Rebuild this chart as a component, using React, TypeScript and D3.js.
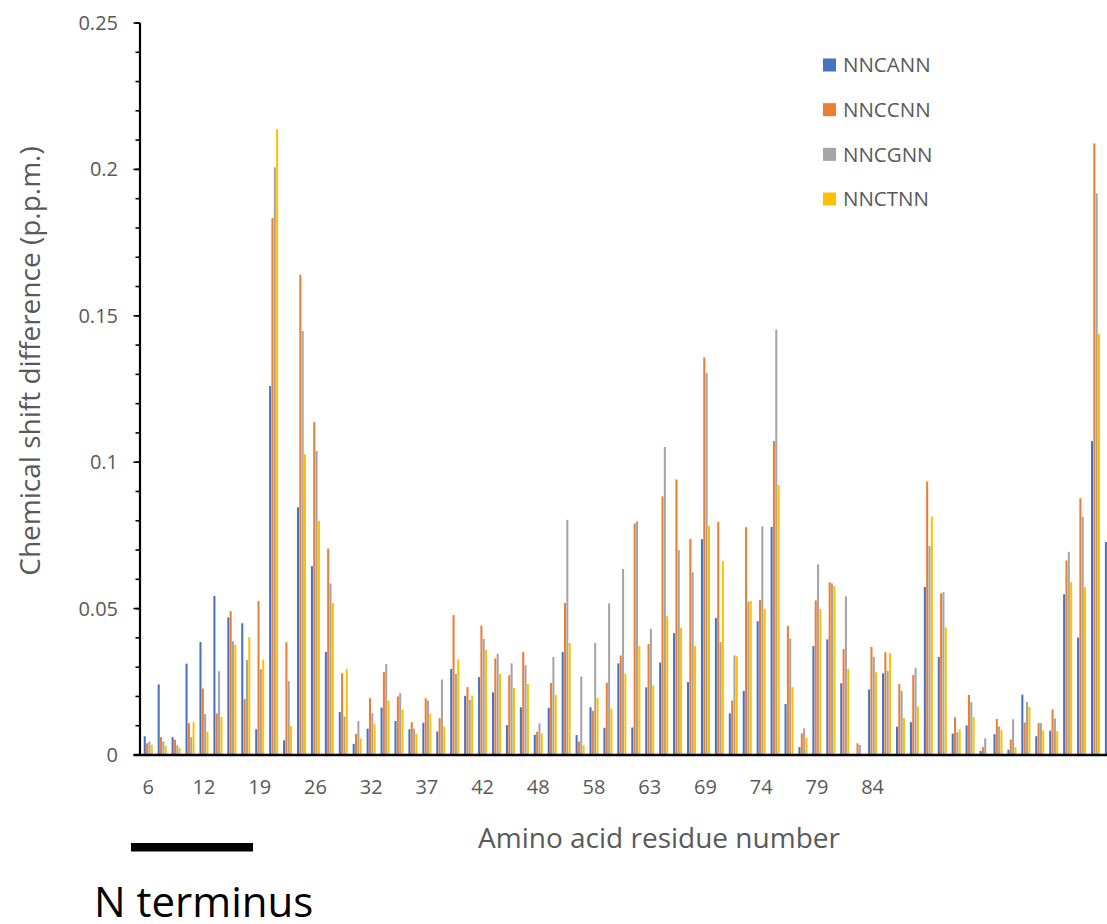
import React from "react";
import * as d3 from "d3";

// Chemical shift differences per residue for the four constructs
const seriesNames = ["NNCANN", "NNCCNN", "NNCGNN", "NNCTNN"];
const seriesColors = ["#4472C4", "#ED7D31", "#A5A5A5", "#FFC000"];

// The last residue group runs past the frame edge; only NNCANN is visible there.
const nncann = [
  0.0064, 0.0241, 0.0061, 0.0312, 0.0386, 0.0543, 0.047, 0.045, 0.0088, 0.126,
  0.005, 0.0846, 0.0645, 0.0352, 0.0147, 0.0038, 0.009, 0.0162, 0.0116, 0.0088,
  0.011, 0.008, 0.0294, 0.0202, 0.0266, 0.0214, 0.0102, 0.0163, 0.0069, 0.0161,
  0.0352, 0.0068, 0.0163, 0.0093, 0.0313, 0.0094, 0.0231, 0.0316, 0.0416, 0.0249,
  0.0737, 0.0468, 0.0142, 0.0219, 0.0457, 0.0779, 0.0174, 0.0027, 0.0372, 0.0395,
  0.0245, 0, 0.0224, 0.0279, 0.0097, 0.0112, 0.0574, 0.0335, 0.0073, 0.0101,
  0.0014, 0.0071, 0.0018, 0.0206, 0.0064, 0.0083, 0.0549, 0.0401, 0.1072, 0.0727,
];
const nnccnn = [
  0.004, 0.0061, 0.0052, 0.0109, 0.0227, 0.0142, 0.0491, 0.0191, 0.0526, 0.1834,
  0.0385, 0.164, 0.1137, 0.0705, 0.0279, 0.0072, 0.0194, 0.0283, 0.02, 0.0112,
  0.0194, 0.0126, 0.0478, 0.0232, 0.0442, 0.033, 0.0273, 0.0352, 0.0079, 0.0246,
  0.0519, 0.0046, 0.0151, 0.0247, 0.034, 0.0791, 0.0379, 0.0883, 0.0941, 0.0738,
  0.1358, 0.0796, 0.0186, 0.0778, 0.0529, 0.1072, 0.0441, 0.0074, 0.0528, 0.059,
  0.0362, 0.004, 0.0369, 0.0351, 0.0242, 0.0273, 0.0934, 0.0552, 0.0129, 0.0205,
  0.0027, 0.0123, 0.0053, 0.0111, 0.0109, 0.0156, 0.0664, 0.0877, 0.2089, null,
];
const nncgnn = [
  0.0046, 0.0046, 0.0033, 0.0061, 0.014, 0.0286, 0.0388, 0.0324, 0.0293, 0.2007,
  0.0252, 0.1448, 0.1038, 0.0586, 0.0132, 0.0116, 0.0143, 0.0311, 0.0212, 0.009,
  0.0186, 0.0258, 0.0277, 0.0188, 0.0396, 0.0346, 0.0313, 0.0307, 0.0108, 0.0335,
  0.0803, 0.0268, 0.0383, 0.0518, 0.0635, 0.0798, 0.0431, 0.1052, 0.07, 0.0624,
  0.1305, 0.0386, 0.034, 0.0524, 0.0781, 0.1453, 0.0398, 0.0091, 0.0651, 0.0586,
  0.0542, 0.0034, 0.0335, 0.0287, 0.0219, 0.0298, 0.0714, 0.0556, 0.0078, 0.0181,
  0.0057, 0.0098, 0.0122, 0.0181, 0.0109, 0.0125, 0.0694, 0.0814, 0.1918, null,
];
const nnctnn = [
  0.0035, 0.0032, 0.0025, 0.0112, 0.0079, 0.013, 0.0376, 0.0403, 0.0326, 0.2137,
  0.0099, 0.1027, 0.08, 0.0519, 0.0294, 0.0056, 0.0105, 0.0186, 0.0155, 0.0073,
  0.0141, 0.0097, 0.0327, 0.0203, 0.0359, 0.0277, 0.0229, 0.0242, 0.0074, 0.0205,
  0.0383, 0.0034, 0.0195, 0.0158, 0.0277, 0.0372, 0.0238, 0.0474, 0.0434, 0.0372,
  0.0783, 0.0663, 0.0337, 0.0526, 0.0499, 0.0922, 0.0232, 0.0058, 0.0499, 0.0578,
  0.0294, 0, 0.0283, 0.0348, 0.0126, 0.0165, 0.0814, 0.0436, 0.0088, 0.013,
  0, 0.0085, 0.0027, 0.0164, 0.0083, 0.0081, 0.059, 0.0573, 0.1438, null,
];
const seriesValues: (number | null)[][] = [nncann, nnccnn, nncgnn, nnctnn];

// Residue numbers shown on the category axis (every fourth group)
const tickLabels = ["6", "12", "19", "26", "32", "37", "42", "48", "58", "63", "69", "74", "79", "84"];
const tickEvery = 4;

const yMax = 0.25;
const yMajorStep = 0.05;
const yMinorStep = 0.01;

const W = 1107;
const H = 924;
const FONT = "'Open Sans', 'Noto Sans', sans-serif";
const TEXT = "#595959";

export default function App() {
  const nGroups = nncann.length;
  const step = 13.93;
  const left = 141.3;
  const top = 23;
  const bottom = 755;
  const axisX = 140;

  const x0 = d3
    .scaleBand<number>()
    .domain(d3.range(nGroups))
    .range([left, left + step * nGroups])
    .paddingInner(0.33)
    .paddingOuter(0.165);
  const x1 = d3
    .scaleBand<number>()
    .domain(d3.range(seriesNames.length))
    .range([0, x0.bandwidth()]);
  const y = d3.scaleLinear().domain([0, yMax]).range([bottom, top]);

  const minorTicks = d3.range(0, Math.round(yMax / yMinorStep) + 1).map((i) => i * yMinorStep);
  const majorTicks = d3.range(0, Math.round(yMax / yMajorStep) + 1).map((i) => i * yMajorStep);
  const fmt = (v: number) => String(+v.toFixed(2));

  const legendY = d3.scalePoint<string>().domain(seriesNames).range([65, 199]);

  return (
    <svg
      width={W}
      height={H}
      style={{ position: "absolute", left: 0, top: 0, background: "#fff", overflow: "hidden" }}
      fontFamily={FONT}
    >
      <rect x={0} y={0} width={W} height={H} fill="#fff" />

      {/* bars */}
      <g>
        {d3.range(nGroups).map((gi) => (
          <g key={gi} transform={`translate(${x0(gi)},0)`}>
            {seriesValues.map((vals, si) => {
              const v = vals[gi];
              if (v == null || v <= 0) return null;
              return (
                <rect
                  key={si}
                  x={x1(si)! + 0.15}
                  y={y(v)}
                  width={x1.bandwidth() - 0.3}
                  height={y(0) - y(v)}
                  fill={seriesColors[si]}
                />
              );
            })}
          </g>
        ))}
      </g>

      {/* y axis */}
      <g>
        <line x1={axisX} x2={axisX} y1={y(yMax)} y2={y(0)} stroke="#000" strokeWidth={2.2} />
        {minorTicks.map((t) => (
          <line key={"m" + t} x1={axisX - 4.5} x2={axisX} y1={y(t)} y2={y(t)} stroke="#000" strokeWidth={1.6} />
        ))}
        {majorTicks.map((t) => (
          <g key={"M" + t}>
            <line x1={axisX - 6.5} x2={axisX} y1={y(t)} y2={y(t)} stroke="#000" strokeWidth={1.6} />
            <text x={118} y={y(t)} dy="0.35em" textAnchor="end" fontSize={20} fill={TEXT}>
              {fmt(t)}
            </text>
          </g>
        ))}
      </g>

      {/* x axis */}
      <line x1={axisX - 6.5} x2={W} y1={y(0)} y2={y(0)} stroke="#000" strokeWidth={2.4} />
      {tickLabels.map((lab, i) => {
        const gi = i * tickEvery;
        return (
          <text
            key={lab}
            x={x0(gi)! + x0.bandwidth() / 2}
            y={787}
            dy="0.35em"
            textAnchor="middle"
            fontSize={20}
            fill={TEXT}
          >
            {lab}
          </text>
        );
      })}

      {/* axis titles */}
      <text
        transform="translate(30,361) rotate(-90)"
        dy="0.35em"
        textAnchor="middle"
        fontSize={28}
        fill={TEXT}
      >
        Chemical shift difference (p.p.m.)
      </text>
      <text x={659} y={838} dy="0.35em" textAnchor="middle" fontSize={28} fill={TEXT}>
        Amino acid residue number
      </text>

      {/* legend */}
      {seriesNames.map((name, si) => (
        <g key={name} transform={`translate(823,${legendY(name)})`}>
          <rect x={0} y={-6.5} width={13} height={13} fill={seriesColors[si]} />
          <text x={20} y={0} dy="0.35em" fontSize={20.5} fill={TEXT}>
            {name}
          </text>
        </g>
      ))}

      {/* N-terminus marker */}
      <rect x={131} y={843} width={122} height={8.5} fill="#000" />
      <text x={94} y={917} fontSize={42} fill="#000">
        N terminus
      </text>
    </svg>
  );
}
